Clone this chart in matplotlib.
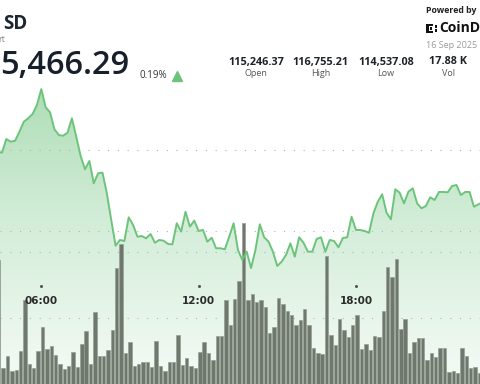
import numpy as np
import matplotlib.pyplot as plt
from matplotlib.colors import LinearSegmentedColormap
from matplotlib.patches import Rectangle
from matplotlib.transforms import blended_transform_factory

# 10-minute candles, first visible one at 04:20
start_hour = 4 + 20 / 60
step = 1 / 6

price = [115979, 115967, 116136, 116103, 116115, 116227, 116351, 116393, 116446, 116558,
         116755, 116529, 116467, 116257, 116186, 116177, 116214, 116393, 116165, 115926,
         115761, 115864, 115587, 115711, 115719, 115463, 115133, 114814, 114885, 114872,
         115166, 115071, 114926, 114934, 114906, 114959, 114851, 114885, 114876, 114835,
         114831, 115092, 114988, 115235, 115050, 115124, 114996, 115009, 114864, 114913,
         114782, 114782, 114769, 114926, 115092, 114761, 114637, 114740, 114537, 114761,
         115079, 114918, 114864, 114740, 114563, 114616, 114699, 114844, 114678, 114918,
         114851, 114740, 114740, 114897, 114918, 114740, 114885, 114872, 114794, 114909,
         114918, 115173, 115009, 115009, 114996, 114975, 115216, 115359, 115451, 115223,
         115141, 115513, 115471, 115339, 115483, 115525, 115339, 115278, 115306, 115414,
         115380, 115480, 115480, 115476, 115554, 115566, 115442, 115480, 115480, 115297,
         115327, 115350]

volume = [188, 24, 43, 19, 21, 50, 128, 30, 25, 50,
          86, 53, 57, 44, 30, 22, 27, 49, 26, 60,
          81, 30, 109, 43, 43, 51, 82, 176, 212, 47,
          63, 28, 31, 34, 34, 26, 65, 28, 20, 33,
          33, 75, 29, 40, 27, 25, 49, 64, 47, 36,
          73, 73, 127, 90, 129, 156, 244, 128, 136, 125,
          127, 117, 77, 87, 130, 121, 110, 105, 90, 97,
          114, 90, 54, 47, 45, 194, 74, 59, 98, 82,
          71, 90, 105, 53, 60, 52, 73, 71, 111, 178,
          162, 189, 84, 98, 47, 63, 69, 69, 36, 47,
          41, 54, 54, 18, 19, 16, 55, 43, 24, 26,
          17, 22]

tick_hours = [6, 12, 18]
tick_labels = ["06:00", "12:00", "18:00"]
price_grid = [115000, 116000]
vol_grid = [100, 200]

stat_values = ["115,246.37", "116,755.21", "114,537.08", "17.88 K"]
stat_names = ["Open", "High", "Low", "Vol"]

t = start_hour + step * np.arange(len(price))
tv = start_hour + step * np.arange(len(volume))

W, H = 480, 384
fig = plt.figure(figsize=(W / 100, H / 100), dpi=100)
fig.patch.set_facecolor("white")

xlim = (4.425, 22.731)
price_lim = (113100, 117859)
vol_lim = (0, 582)

ax_bg = fig.add_axes([0, 0, 1, 1])
ax_vol = fig.add_axes([0, 0, 1, 1])
ax_px = fig.add_axes([0, 0, 1, 1])
for a in (ax_bg, ax_vol, ax_px):
    a.set_xlim(xlim)
    a.axis("off")
    a.patch.set_visible(False)
ax_bg.set_ylim(price_lim)
ax_px.set_ylim(price_lim)
ax_vol.set_ylim(vol_lim)

# gradient area under the price line
cmap = LinearSegmentedColormap.from_list(
    "g", [(0, "#f5fbf6"), (0.4, "#d5eeda"), (0.8, "#abdcb4"), (1, "#9dd6a8")])
grad = np.linspace(0, 1, 256).reshape(-1, 1)
im = ax_bg.imshow(grad, cmap=cmap, origin="lower", aspect="auto",
                  extent=[xlim[0], xlim[1], price_lim[0], price_lim[1]], zorder=0)
poly = ax_bg.fill_between(t, price, price_lim[0], facecolor="none", edgecolor="none")
im.set_clip_path(poly.get_paths()[0], ax_bg.transData)

dots = (0, (1, 7.8))
for g in price_grid:
    ax_bg.axhline(g, color="#b3b3b3", lw=0.8, ls=dots, zorder=1)
for g in vol_grid:
    ax_vol.axhline(g, color="#b3b3b3", lw=0.8, ls=dots, zorder=1)

ax_vol.bar(tv + 0.045, volume, width=step * 0.78, color="#6f786c",
           edgecolor="#979f95", linewidth=0.5, zorder=2)

ax_px.plot(t, price, color="#6cc47b", lw=1.4, zorder=3)

trans = blended_transform_factory(ax_px.transData, ax_px.transAxes)
ax_px.plot(tick_hours, [0.256] * len(tick_hours), "o", ms=1.2, color="#555555",
           transform=trans, zorder=4)
for h, lab in zip(tick_hours, tick_labels):
    ax_px.text(h, 0.216, lab, transform=trans, ha="center", va="center",
               fontsize=7.5, weight="bold", color="#2b2b2b", zorder=5)


def fx(x, y):
    return x / W, 1 - y / H


fam = ["Open Sans", "DejaVu Sans"]
fig.text(*fx(27, 24), "SD", ha="right", va="center", fontsize=13.5, weight="bold",
         color="#1b2631", family=fam)
fig.text(*fx(5.5, 39), "rt", ha="right", va="center", fontsize=6.5, color="#8a8a8a", family=fam)
fig.text(*fx(0.5, 65), "5,466.29", ha="left", va="center", fontsize=23.5,
         weight="semibold", color="#17202a", family=fam)
fig.text(*fx(139, 75), "0.19%", ha="left", va="center", fontsize=7, color="#333333", family=fam)
fig.add_artist(plt.Line2D([176.5 / W], [1 - 75.5 / H], marker="^", ms=7,
                          color="#6cc47b", transform=fig.transFigure))

for x, v, n in zip([256, 320.5, 386, 448], stat_values, stat_names):
    fig.text(*fx(x, 62), v, ha="center", va="center", fontsize=7.8, weight="bold",
             color="#1e2328", family=fam)
    fig.text(*fx(x, 74), n, ha="center", va="center", fontsize=6.5, color="#555555", family=fam)

fig.text(*fx(426, 10.5), "Powered by", ha="left", va="center", fontsize=6.3, weight="bold",
         color="#222222", family=fam)
# little CoinDesk mark
for (x0, y0, w, h) in [(426, 24, 2.5, 9), (426, 24, 7, 2.2), (426, 30.8, 7, 2.2),
                       (430, 27.5, 2, 2), (434.5, 25.5, 2, 2), (434.5, 29.5, 2, 2)]:
    fig.add_artist(Rectangle((x0 / W, 1 - (y0 + h) / H), w / W, h / H,
                             facecolor="#111111", edgecolor="none", transform=fig.transFigure))
fig.text(*fx(439.5, 28.5), "CoinD", ha="left", va="center", fontsize=10, weight="bold",
         color="#111111", family=fam)
fig.text(*fx(426, 45), "16 Sep 2025", ha="left", va="center", fontsize=6.5,
         color="#9a9a9a", family=fam)

fig.savefig("out.png", dpi=100)
